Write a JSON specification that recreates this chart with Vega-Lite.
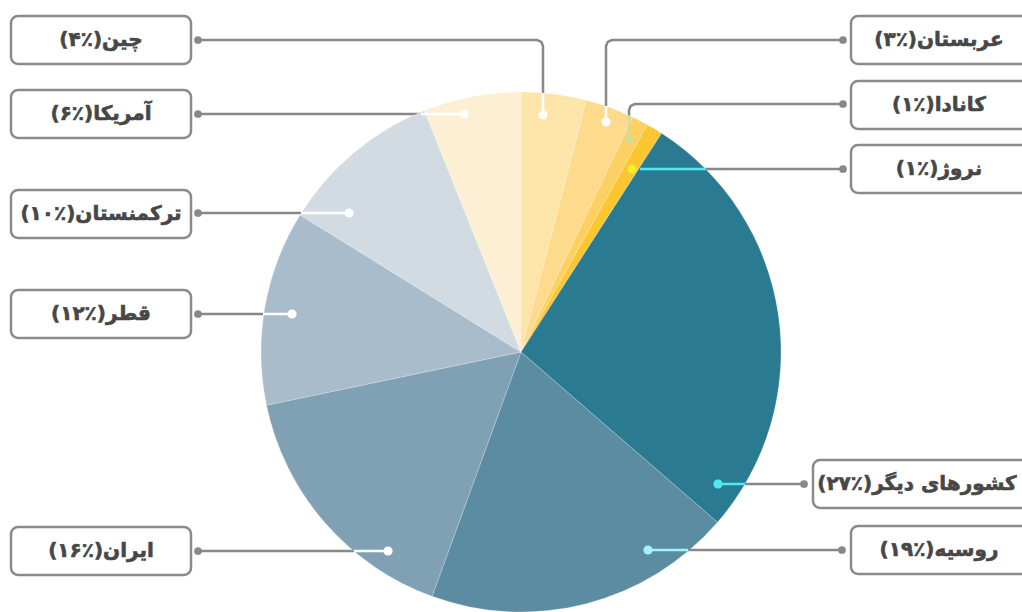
{
  "$schema": "https://vega.github.io/schema/vega-lite/v6.json",
  "width": 1022,
  "height": 612,
  "autosize": {"type": "none"},
  "padding": 0,
  "background": "#ffffff",
  "config": {"view": {"stroke": null}},
  "resolve": {"scale": {"color": "independent"}},
  "datasets": {
    "slices": [
      {"country": "چین", "value": 4, "idx": 0},
      {"country": "عربستان", "value": 3, "idx": 1},
      {"country": "کانادا", "value": 1, "idx": 2},
      {"country": "نروژ", "value": 1, "idx": 3},
      {"country": "کشورهای دیگر", "value": 27, "idx": 4},
      {"country": "روسیه", "value": 19, "idx": 5},
      {"country": "ایران", "value": 16, "idx": 6},
      {"country": "قطر", "value": 12, "idx": 7},
      {"country": "ترکمنستان", "value": 10, "idx": 8},
      {"country": "آمریکا", "value": 6, "idx": 9}
    ],
    "boxes": [
      {"label": "چین(٪۴)", "x1": 11, "x2": 191, "y1": 16, "y2": 64, "tx": 101, "ty": 40},
      {"label": "آمریکا(٪۶)", "x1": 11, "x2": 191, "y1": 90, "y2": 138, "tx": 101, "ty": 114},
      {"label": "ترکمنستان(٪۱۰)", "x1": 11, "x2": 191, "y1": 190, "y2": 238, "tx": 101, "ty": 214},
      {"label": "قطر(٪۱۲)", "x1": 11, "x2": 191, "y1": 290, "y2": 338, "tx": 101, "ty": 314},
      {"label": "ایران(٪۱۶)", "x1": 11, "x2": 191, "y1": 527, "y2": 575, "tx": 101, "ty": 551},
      {"label": "عربستان(٪۳)", "x1": 851, "x2": 1031, "y1": 16, "y2": 64, "tx": 939, "ty": 40},
      {"label": "کانادا(٪۱)", "x1": 851, "x2": 1031, "y1": 81, "y2": 129, "tx": 939, "ty": 105},
      {"label": "نروژ(٪۱)", "x1": 851, "x2": 1031, "y1": 145, "y2": 193, "tx": 939, "ty": 169},
      {"label": "کشورهای دیگر(٪۲۷)", "x1": 813, "x2": 1028, "y1": 460, "y2": 508, "tx": 917, "ty": 484},
      {"label": "روسیه(٪۱۹)", "x1": 851, "x2": 1031, "y1": 526, "y2": 574, "tx": 939, "ty": 550}
    ],
    "leaders": [
      {"seg": "a1", "tone": "gray", "o": 1, "x": 198, "y": 40},
      {"seg": "a1", "tone": "gray", "o": 2, "x": 537, "y": 40},
      {"seg": "a1", "tone": "gray", "o": 3, "x": 541.2, "y": 41.8},
      {"seg": "a1", "tone": "gray", "o": 4, "x": 543, "y": 46},
      {"seg": "a1", "tone": "gray", "o": 5, "x": 543, "y": 93},
      {"seg": "a2", "tone": "white", "o": 1, "x": 543, "y": 93},
      {"seg": "a2", "tone": "white", "o": 2, "x": 543, "y": 115},
      {"seg": "b1", "tone": "gray", "o": 1, "x": 198, "y": 114},
      {"seg": "b1", "tone": "gray", "o": 2, "x": 421, "y": 114},
      {"seg": "b2", "tone": "white", "o": 1, "x": 421, "y": 114},
      {"seg": "b2", "tone": "white", "o": 2, "x": 464, "y": 114},
      {"seg": "c1", "tone": "gray", "o": 1, "x": 198, "y": 213},
      {"seg": "c1", "tone": "gray", "o": 2, "x": 301, "y": 213},
      {"seg": "c2", "tone": "white", "o": 1, "x": 301, "y": 213},
      {"seg": "c2", "tone": "white", "o": 2, "x": 349, "y": 213},
      {"seg": "d1", "tone": "gray", "o": 1, "x": 198, "y": 314},
      {"seg": "d1", "tone": "gray", "o": 2, "x": 263, "y": 314},
      {"seg": "d2", "tone": "white", "o": 1, "x": 263, "y": 314},
      {"seg": "d2", "tone": "white", "o": 2, "x": 292, "y": 314},
      {"seg": "e1", "tone": "gray", "o": 1, "x": 198, "y": 551},
      {"seg": "e1", "tone": "gray", "o": 2, "x": 354, "y": 551},
      {"seg": "e2", "tone": "white", "o": 1, "x": 354, "y": 551},
      {"seg": "e2", "tone": "white", "o": 2, "x": 388, "y": 551},
      {"seg": "f1", "tone": "gray", "o": 1, "x": 843, "y": 40},
      {"seg": "f1", "tone": "gray", "o": 2, "x": 612, "y": 40},
      {"seg": "f1", "tone": "gray", "o": 3, "x": 607.8, "y": 41.8},
      {"seg": "f1", "tone": "gray", "o": 4, "x": 606, "y": 46},
      {"seg": "f1", "tone": "gray", "o": 5, "x": 606, "y": 106},
      {"seg": "f2", "tone": "white", "o": 1, "x": 606, "y": 106},
      {"seg": "f2", "tone": "white", "o": 2, "x": 606, "y": 122},
      {"seg": "g1", "tone": "gray", "o": 1, "x": 843, "y": 104},
      {"seg": "g1", "tone": "gray", "o": 2, "x": 635, "y": 104},
      {"seg": "g1", "tone": "gray", "o": 3, "x": 630.8, "y": 105.8},
      {"seg": "g1", "tone": "gray", "o": 4, "x": 629, "y": 110},
      {"seg": "g1", "tone": "gray", "o": 5, "x": 629, "y": 116},
      {"seg": "g2", "tone": "pale", "o": 1, "x": 629, "y": 116},
      {"seg": "g2", "tone": "pale", "o": 2, "x": 629, "y": 139},
      {"seg": "h1", "tone": "gray", "o": 1, "x": 843, "y": 169},
      {"seg": "h1", "tone": "gray", "o": 2, "x": 706, "y": 169},
      {"seg": "h2", "tone": "cyan", "o": 1, "x": 706, "y": 169},
      {"seg": "h2", "tone": "cyan", "o": 2, "x": 640, "y": 169},
      {"seg": "i1", "tone": "gray", "o": 1, "x": 804, "y": 484},
      {"seg": "i1", "tone": "gray", "o": 2, "x": 745, "y": 484},
      {"seg": "i2", "tone": "cyan", "o": 1, "x": 745, "y": 484},
      {"seg": "i2", "tone": "cyan", "o": 2, "x": 718, "y": 484},
      {"seg": "j1", "tone": "gray", "o": 1, "x": 842, "y": 550},
      {"seg": "j1", "tone": "gray", "o": 2, "x": 688, "y": 550},
      {"seg": "j2", "tone": "lightcyan", "o": 1, "x": 688, "y": 550},
      {"seg": "j2", "tone": "lightcyan", "o": 2, "x": 648, "y": 550}
    ],
    "enddots": [
      {"x": 198, "y": 40}, {"x": 198, "y": 114}, {"x": 198, "y": 213},
      {"x": 198, "y": 314}, {"x": 198, "y": 551},
      {"x": 843, "y": 40}, {"x": 843, "y": 104}, {"x": 843, "y": 169},
      {"x": 804, "y": 484}, {"x": 842, "y": 550}
    ],
    "piedots": [
      {"tone": "white", "x": 543, "y": 115},
      {"tone": "white", "x": 464, "y": 114},
      {"tone": "white", "x": 349, "y": 213},
      {"tone": "white", "x": 292, "y": 314},
      {"tone": "white", "x": 388, "y": 551},
      {"tone": "white", "x": 606, "y": 122},
      {"tone": "pale", "x": 629, "y": 139},
      {"tone": "yellow", "x": 632, "y": 169},
      {"tone": "cyan", "x": 718, "y": 484},
      {"tone": "lightcyan", "x": 648, "y": 550}
    ]
  },
  "layer": [
    {
      "data": {"name": "leaders"},
      "transform": [{"filter": "datum.tone == 'gray'"}],
      "mark": {"type": "line", "strokeWidth": 2.5, "strokeCap": "butt", "strokeJoin": "round", "color": "#888888"},
      "encoding": {
        "x": {"field": "x", "type": "quantitative", "scale": {"domain": [0, 1022], "nice": false, "zero": false}, "axis": null},
        "y": {"field": "y", "type": "quantitative", "scale": {"domain": [0, 612], "nice": false, "zero": false, "reverse": true}, "axis": null},
        "detail": {"field": "seg"},
        "order": {"field": "o", "type": "quantitative"}
      }
    },
    {
      "data": {"name": "slices"},
      "mark": {"type": "arc", "outerRadius": 260, "stroke": "#ffffff", "strokeWidth": 0.6, "strokeOpacity": 0.35},
      "encoding": {
        "x": {"datum": 521, "type": "quantitative"},
        "y": {"datum": 352, "type": "quantitative"},
        "theta": {"field": "value", "type": "quantitative", "stack": true},
        "order": {"field": "idx", "type": "quantitative"},
        "color": {"field": "country", "type": "nominal", "legend": null,
          "scale": {"domain": ["چین", "عربستان", "کانادا", "نروژ", "کشورهای دیگر", "روسیه", "ایران", "قطر", "ترکمنستان", "آمریکا"],
                    "range": ["#fde4a8", "#fdda8c", "#fdd064", "#fcc630", "#2a7b91", "#5b8ca2", "#80a0b4", "#a8bccb", "#d2dae2", "#fdefd3"]}}
      }
    },
    {
      "data": {"name": "leaders"},
      "transform": [{"filter": "datum.tone != 'gray'"}],
      "mark": {"type": "line", "strokeWidth": 2.5, "strokeCap": "butt"},
      "encoding": {
        "x": {"field": "x", "type": "quantitative"},
        "y": {"field": "y", "type": "quantitative"},
        "detail": {"field": "seg"},
        "order": {"field": "o", "type": "quantitative"},
        "color": {"field": "tone", "type": "nominal", "legend": null,
          "scale": {"domain": ["white", "cyan", "lightcyan", "pale", "yellow"],
                    "range": ["#ffffff", "#4fe9f2", "#a3f3f7", "#d5db92", "#f5ec2c"]}}
      }
    },
    {
      "data": {"name": "piedots"},
      "mark": {"type": "point", "shape": "circle", "filled": true, "opacity": 1, "size": 85},
      "encoding": {
        "x": {"field": "x", "type": "quantitative"},
        "y": {"field": "y", "type": "quantitative"},
        "color": {"field": "tone", "type": "nominal", "legend": null,
          "scale": {"domain": ["white", "cyan", "lightcyan", "pale", "yellow"],
                    "range": ["#ffffff", "#4fe9f2", "#a3f3f7", "#d5db92", "#f5ec2c"]}}
      }
    },
    {
      "data": {"name": "boxes"},
      "mark": {"type": "rect", "fill": "#ffffff", "stroke": "#8a8a8a", "strokeWidth": 2.5, "cornerRadius": 7},
      "encoding": {
        "x": {"field": "x1", "type": "quantitative"},
        "x2": {"field": "x2"},
        "y": {"field": "y1", "type": "quantitative"},
        "y2": {"field": "y2"}
      }
    },
    {
      "data": {"name": "enddots"},
      "mark": {"type": "point", "shape": "circle", "filled": true, "opacity": 1, "size": 60, "color": "#888888"},
      "encoding": {
        "x": {"field": "x", "type": "quantitative"},
        "y": {"field": "y", "type": "quantitative"}
      }
    },
    {
      "data": {"name": "boxes"},
      "mark": {"type": "text", "font": "DejaVu Sans", "fontWeight": "bold", "fontSize": 20, "color": "#474747", "stroke": "#474747", "strokeWidth": 0.6, "align": "center", "baseline": "middle", "dir": "rtl"},
      "encoding": {
        "x": {"field": "tx", "type": "quantitative"},
        "y": {"field": "ty", "type": "quantitative"},
        "text": {"field": "label"}
      }
    }
  ]
}
